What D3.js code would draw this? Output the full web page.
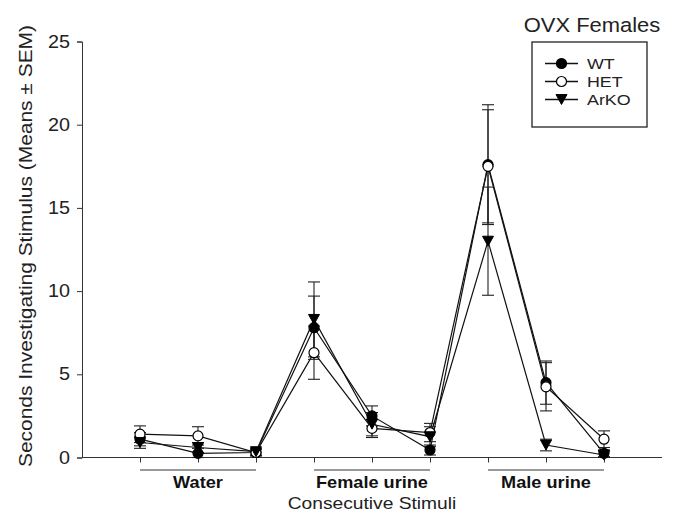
<!DOCTYPE html>
<html>
<head>
<meta charset="utf-8">
<script src="https://cdn.jsdelivr.net/npm/d3@7"></script>
<style>
  body { margin: 0; background: #fff; }
  svg { font-family: "Liberation Sans", Arial, sans-serif; }
</style>
</head>
<body>
<svg id="chart" width="676" height="513"></svg>
<script>
// consecutive stimulus number (1..9)
var stimuli = [1, 2, 3, 4, 5, 6, 7, 8, 9];
var yTicks = [0, 5, 10, 15, 20, 25];

var wtMean = [1.1, 0.25, 0.3, 7.8, 2.5, 0.45, 17.6, 4.5, 0.25];
var wtSem = [0.4, 0.3, 0.2, 1.9, 0.6, 0.3, 3.6, 1.3, 0.2];
var hetMean = [1.4, 1.3, 0.3, 6.3, 1.75, 1.5, 17.5, 4.25, 1.1];
var hetSem = [0.5, 0.55, 0.2, 1.6, 0.55, 0.55, 3.4, 1.45, 0.5];
var arkoMean = [0.9, 0.6, 0.35, 8.3, 2.0, 1.25, 13.0, 0.75, 0.15];
var arkoSem = [0.35, 0.3, 0.2, 2.25, 0.7, 0.6, 3.25, 0.35, 0.2];

var groupNames = ["Water", "Female urine", "Male urine"];
var groupStart = [1, 4, 7];
var groupEnd = [3, 6, 9];

var seriesNames = ["WT", "HET", "ArKO"];

var svg = d3.select("#chart");

// the original lettering is a bit wider than Arial, stretch it a little
function widen(sel, k) {
  sel.each(function() {
    var len = this.getComputedTextLength();
    d3.select(this).attr("textLength", len * k).attr("lengthAdjust", "spacingAndGlyphs");
  });
}

// set the ranges
var x = d3.scaleLinear().domain([0, 10]).range([82, 662]);
var y = d3.scaleLinear().domain([0, 25]).range([457.5, 41.5]);

var series = [
  {name: "WT", mean: wtMean, sem: wtSem, shape: "circle", fill: "#000"},
  {name: "HET", mean: hetMean, sem: hetSem, shape: "circle", fill: "#fff"},
  {name: "ArKO", mean: arkoMean, sem: arkoSem, shape: "tri", fill: "#000"}
];

// y axis
var yAxis = svg.append("g")
    .attr("transform", "translate(" + x(0) + ",0)")
    .call(d3.axisLeft(y).tickValues(yTicks).tickSize(5).tickPadding(7));
yAxis.selectAll("text").attr("font-size", 17.5).attr("fill", "#222")
    .style("font-family", "Liberation Sans, Arial, sans-serif");
widen(yAxis.selectAll("text"), 1.13);
yAxis.selectAll("line, path").attr("stroke", "#333");

// x axis
var xAxis = svg.append("g")
    .attr("transform", "translate(0," + y(0) + ")")
    .call(d3.axisBottom(x).tickValues(stimuli).tickSize(5).tickFormat(""));
xAxis.selectAll("line, path").attr("stroke", "#333");
xAxis.select(".domain").attr("d", "M" + x(0) + ",0H" + x(10));

// group bars + labels
groupNames.forEach(function(name, i) {
  svg.append("line")
      .attr("x1", x(groupStart[i])).attr("x2", x(groupEnd[i]))
      .attr("y1", 470).attr("y2", 470)
      .attr("stroke", "#999").attr("stroke-width", 1.8);
  var t = svg.append("text")
      .attr("x", (x(groupStart[i]) + x(groupEnd[i])) / 2)
      .attr("y", 488)
      .attr("text-anchor", "middle")
      .attr("font-size", 16.5).attr("font-weight", "bold").attr("fill", "#111")
      .text(name);
  widen(t, 1.1);
});

var xt = svg.append("text")
    .attr("x", x(5)).attr("y", 509)
    .attr("text-anchor", "middle")
    .attr("font-size", 17).attr("fill", "#222")
    .text("Consecutive Stimuli");
widen(xt, 1.13);

var yt = svg.append("text")
    .attr("transform", "translate(32,246) rotate(-90)")
    .attr("text-anchor", "middle")
    .attr("font-size", 18.5).attr("fill", "#222")
    .text("Seconds Investigating Stimulus (Means \u00b1 SEM)");
yt.attr("textLength", 442).attr("lengthAdjust", "spacingAndGlyphs");

var tt = svg.append("text")
    .attr("x", 592).attr("y", 32)
    .attr("text-anchor", "middle")
    .attr("font-size", 20.5).attr("fill", "#222")
    .text("OVX Females");
widen(tt, 1.07);

var line = d3.line()
    .x(function(d, i) { return x(stimuli[i]); })
    .y(function(d) { return y(d); });

function tri(s) {
  var h = s * 0.9;
  return "M" + (-s / 2) + "," + (-h / 2) + "L" + (s / 2) + "," + (-h / 2) + "L0," + (h / 2) + "Z";
}

function drawMarker(g, shape, fill) {
  if (shape === "circle") {
    g.append("circle").attr("r", 5)
        .attr("fill", fill).attr("stroke", "#000").attr("stroke-width", 1.2);
  } else {
    g.append("path").attr("d", tri(11))
        .attr("fill", fill).attr("stroke", "#000").attr("stroke-width", 1);
  }
}

// lines
series.forEach(function(s) {
  svg.append("path")
      .datum(s.mean)
      .attr("fill", "none")
      .attr("stroke", "#111")
      .attr("stroke-width", 1.2)
      .attr("d", line);
});

// error bars
series.forEach(function(s) {
  var eb = svg.append("g");
  s.mean.forEach(function(m, i) {
    var cx = x(stimuli[i]);
    var top = y(m + s.sem[i]), bot = y(Math.max(0, m - s.sem[i]));
    eb.append("line").attr("x1", cx).attr("x2", cx).attr("y1", top).attr("y2", bot)
        .attr("stroke", "#222").attr("stroke-width", 1.1);
    [top, bot].forEach(function(yy) {
      eb.append("line").attr("x1", cx - 6).attr("x2", cx + 6).attr("y1", yy).attr("y2", yy)
          .attr("stroke", "#222").attr("stroke-width", 1.1);
    });
  });
});

// markers
series.forEach(function(s) {
  s.mean.forEach(function(m, i) {
    var g = svg.append("g").attr("transform", "translate(" + x(stimuli[i]) + "," + y(m) + ")");
    drawMarker(g, s.shape, s.fill);
  });
});

// legend
svg.append("rect")
    .attr("x", 532).attr("y", 42).attr("width", 115).attr("height", 85)
    .attr("fill", "#fff").attr("stroke", "#222").attr("stroke-width", 1.3);
series.forEach(function(s, i) {
  var ly = 63.5 + i * 18;
  svg.append("line").attr("x1", 545).attr("x2", 578).attr("y1", ly).attr("y2", ly)
      .attr("stroke", "#111").attr("stroke-width", 1.3);
  var g = svg.append("g").attr("transform", "translate(561.5," + ly + ")");
  drawMarker(g, s.shape, s.fill);
  var lt = svg.append("text").attr("x", 587).attr("y", ly + 5.5)
      .attr("font-size", 15.5).attr("fill", "#222")
      .text(seriesNames[i]);
  widen(lt, 1.15);
});
</script>
</body>
</html>
